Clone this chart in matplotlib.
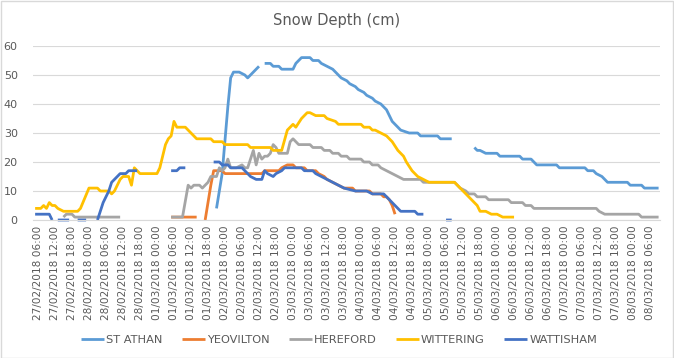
import numpy as np
import matplotlib
matplotlib.use("Agg")
import matplotlib.pyplot as plt
from matplotlib.patches import Rectangle

# x values are hours after 27/02/2018 06:00 ; None marks a gap in the record
st_athan_h = [63, 65, 67, 68, 69, 71, 73, 74, 76, 77, 78, 79,
              80, 82, 83, 85, 86, 90, 91, 92, 93, 96, 97, 99, 100, 102, 104, 105, 106, 107,
              109, 110, 112, 113, 115, 116, 118, 119, 121, 122, 123, 124, 125, 126, 127, 128,
              131, 134, 135, 141, 142, 146, 150,
              154, 155, 156, 158, 162, 163, 170, 171, 174, 175, 176, 183, 184, 193, 194, 196,
              197, 199, 200, 201, 208, 209, 213, 214, 219]
st_athan_v = [4, 16, 39, 49, 51, 51, 50, 49, 51, 52, 53, None,
              54, 54, 53, 53, 52, 52, 54, 55, 56, 56, 55, 55, 54, 53, 52, 51, 50, 49,
              48, 47, 46, 45, 44, 43, 42, 41, 40, 39, 38, 36, 34, 33, 32, 31,
              30, 30, 29, 29, 28, 28, None,
              25, 24, 24, 23, 23, 22, 22, 21, 21, 20, 19, 19, 18, 18, 17, 17,
              16, 15, 14, 13, 13, 12, 12, 11, 11]

yeovilton_h = [47, 56, 57, 59, 60, 61, 62, 65, 66, 79, 80, 85, 86, 88, 90, 91, 94, 95, 98,
               99, 101, 102, 104, 106, 108, 111, 112, 117, 118, 121, 122, 123, 124, 125, 126]
yeovilton_v = [1, 1, None, 0, 6, 12, 17, 17, 16, 16, 17, 17, 18, 19, 19, 18, 18, 17, 17,
               16, 15, 14, 13, 12, 11, 11, 10, 10, 9, 9, 8, 8, 7, 5, 2]

hereford_h = [9, 10, 12, 13, 29, 30,
              47, 51, 53, 54, 55, 57, 58, 59, 60, 61, 63, 64, 65, 66, 67, 68, 70, 72, 73, 74,
              76, 77, 78, 79, 80, 81, 82, 83, 84, 85, 88, 89, 90, 91, 92, 96, 97, 100, 101,
              103, 104, 106, 107, 109, 110, 114, 115, 117, 118, 120, 121, 123, 125, 127, 129,
              135, 136, 147, 148, 149, 151, 152, 154, 155, 158, 159, 166, 167, 171, 172, 174,
              175, 197, 198, 200, 212, 213, 219]
hereford_v = [1, 2, 2, 1, 1, None,
              1, 1, 12, 11, 12, 12, 11, 12, 13, 15, 15, 18, 17, 18, 21, 18, 18, 19, 18, 18,
              24, 19, 23, 21, 22, 22, 23, 26, 25, 23, 23, 27, 28, 27, 26, 26, 25, 25, 24,
              24, 23, 23, 22, 22, 21, 21, 20, 20, 19, 19, 18, 17, 16, 15, 14,
              14, 13, 13, 12, 11, 10, 9, 9, 8, 8, 7, 7, 6, 6, 5, 5,
              4, 4, 3, 2, 2, 1, 1]

wittering_h = [-1, 1, 2, 3, 4, 5, 6, 7, 9, 14, 15, 18, 21, 22, 25, 26, 27, 29, 30, 32, 33,
               34, 35, 36, 42, 43, 45, 46, 47, 48, 49, 52, 53, 55, 56, 61, 62, 65, 66, 74, 75,
               82, 83, 86, 88, 90, 91, 93, 95, 96, 98, 101, 102, 105, 106, 114, 115, 117, 118,
               119, 121, 123, 125, 127, 129, 130, 132, 134, 136, 138, 147, 148, 150, 151, 153,
               155, 156, 158, 160, 162, 164, 168]
wittering_v = [4, 4, 5, 4, 6, 5, 5, 4, 3, 3, 4, 11, 11, 10, 10, 9, 10, 14, 15, 15, 12,
               18, 17, 16, 16, 18, 26, 28, 29, 34, 32, 32, 31, 29, 28, 28, 27, 27, 26, 26, 25,
               25, 24, 24, 31, 33, 32, 35, 37, 37, 36, 36, 35, 34, 33, 33, 32, 32, 31,
               31, 30, 29, 27, 24, 22, 20, 17, 15, 14, 13, 13, 12, 10, 9, 7,
               5, 3, 3, 2, 2, 1, 1]

wattisham_h = [-1, 3, 4, 5, 6, 7, 11, 12, 14, 17, 18, 21, 22, 23, 24, 25, 26, 27, 28, 29,
               31, 32, 35, 36, 47, 49, 50, 52, 53,
               62, 64, 65, 67, 68, 72, 73, 74, 75, 77, 79, 80, 81, 83, 84, 86, 87, 93, 94, 97,
               98, 100, 102, 104, 106, 108, 112, 116, 118, 122, 123, 124, 125, 126, 128, 133,
               134, 136, 140, 144, 146]
wattisham_v = [2, 2, 2, 0, None, 0, 0, None, 0, 0, None, 0, 3, 6, 8, 10, 13, 14, 15, 16,
               16, 17, 17, None, 17, 17, 18, 18, None,
               20, 20, 19, 19, 18, 18, 17, 16, 15, 14, 14, 17, 16, 15, 16, 17, 18, 18, 17, 17,
               16, 15, 14, 13, 12, 11, 10, 10, 9, 9, 8, 7, 6, 5, 3, 3,
               2, 2, None, 0, 0]

tick_hours = list(range(0, 217, 6))
tick_labels = ["27/02/2018 06:00", "27/02/2018 12:00", "27/02/2018 18:00",
               "28/02/2018 00:00", "28/02/2018 06:00", "28/02/2018 12:00", "28/02/2018 18:00",
               "01/03/2018 00:00", "01/03/2018 06:00", "01/03/2018 12:00", "01/03/2018 18:00",
               "02/03/2018 00:00", "02/03/2018 06:00", "02/03/2018 12:00", "02/03/2018 18:00",
               "03/03/2018 00:00", "03/03/2018 06:00", "03/03/2018 12:00", "03/03/2018 18:00",
               "04/03/2018 00:00", "04/03/2018 06:00", "04/03/2018 12:00", "04/03/2018 18:00",
               "05/03/2018 00:00", "05/03/2018 06:00", "05/03/2018 12:00", "05/03/2018 18:00",
               "06/03/2018 00:00", "06/03/2018 06:00", "06/03/2018 12:00", "06/03/2018 18:00",
               "07/03/2018 00:00", "07/03/2018 06:00", "07/03/2018 12:00", "07/03/2018 18:00",
               "08/03/2018 00:00", "08/03/2018 06:00"]

series = [
    ("ST ATHAN", st_athan_h, st_athan_v, "#5B9BD5"),
    ("YEOVILTON", yeovilton_h, yeovilton_v, "#ED7D31"),
    ("HEREFORD", hereford_h, hereford_v, "#A5A5A5"),
    ("WITTERING", wittering_h, wittering_v, "#FFC000"),
    ("WATTISHAM", wattisham_h, wattisham_v, "#4472C4"),
]

TXT = "#595959"
fig = plt.figure(figsize=(6.74, 3.58), dpi=100)
fig.patches.append(Rectangle((0.001, 0.001), 0.997, 0.996, transform=fig.transFigure,
                             fill=False, edgecolor="#D9D9D9", linewidth=1.0))
ax = fig.add_axes([33 / 674, 1 - 220 / 358, (660 - 33) / 674, (220 - 46) / 358])

for name, h, v, c in series:
    vv = np.array([np.nan if x is None else x for x in v], dtype=float)
    ax.plot(h, vv, color=c, linewidth=2.0, label=name, clip_on=False,
            solid_joinstyle="round", solid_capstyle="butt")

ax.set_xlim(-1.75, 219.5)
ax.set_ylim(0, 60)
ax.set_yticks(range(0, 61, 10))
ax.set_xticks(tick_hours)
ax.set_xticklabels(tick_labels, rotation=90, fontsize=7.6, color=TXT)
ax.tick_params(axis="y", labelsize=8, colors=TXT, length=0, pad=11)
ax.tick_params(axis="x", length=0, pad=4, colors=TXT)
ax.grid(axis="y", color="#D9D9D9", linewidth=0.8)
ax.set_axisbelow(True)
for s in ["top", "right", "left"]:
    ax.spines[s].set_visible(False)
ax.spines["bottom"].set_color("#D9D9D9")
ax.spines["bottom"].set_linewidth(0.8)

fig.text(0.5, 1 - 21 / 358, "Snow Depth (cm)", ha="center", va="center",
         fontsize=10.5, color=TXT)

leg = fig.legend(loc="center", bbox_to_anchor=(339 / 674, 1 - 340 / 358), ncol=5,
                 frameon=False, fontsize=8.2, handlelength=2.0, handletextpad=0.2,
                 columnspacing=1.7, labelcolor=TXT)

fig.savefig("out.png", dpi=100)
